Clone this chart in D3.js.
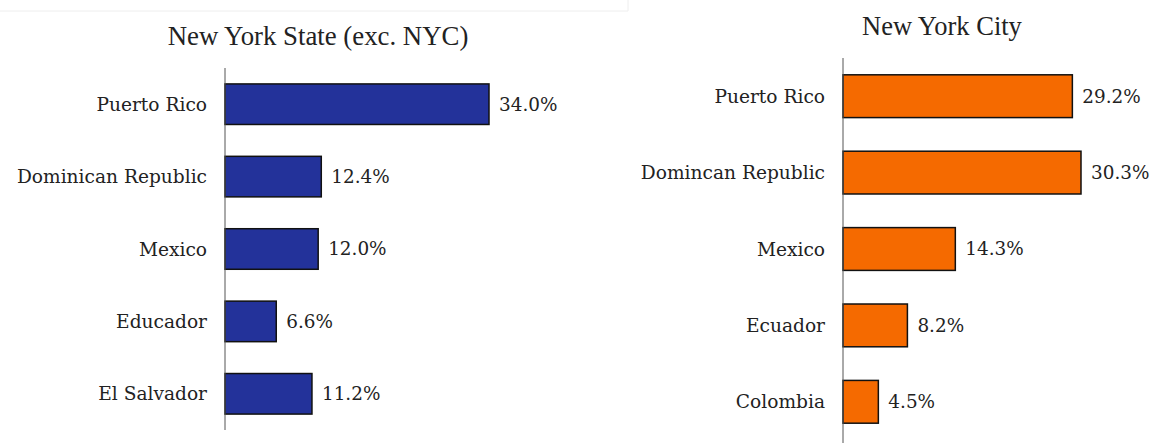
<!DOCTYPE html>
<html>
<head>
<meta charset="utf-8">
<script src="https://cdn.jsdelivr.net/npm/d3@7"></script>
<style>
  body { margin: 0; background: #fff; }
  svg { display: block; }
</style>
</head>
<body>
<div id="chart"></div>
<script>
// data
const stateCountries = ['Puerto Rico', 'Dominican Republic', 'Mexico', 'Educador', 'El Salvador']
const stateValues = [34.0, 12.4, 12.0, 6.6, 11.2]

const cityCountries = ['Puerto Rico', 'Domincan Republic', 'Mexico', 'Ecuador', 'Colombia']
const cityValues = [29.2, 30.3, 14.3, 8.2, 4.5]

const width = 1152
const height = 443
const labelFont = "'DejaVu Serif', Georgia, serif"
const titleFont = "'Liberation Serif', Georgia, serif"

const svg = d3.select('#chart')
  .append('svg')
  .attr('width', width)
  .attr('height', height)

// faint frame edge from the screenshot
svg.append('path')
  .attr('d', 'M0,11H628V0')
  .attr('fill', 'none')
  .attr('stroke', '#eee')
  .attr('stroke-width', 1)

function panel(opts) {
  const g = svg.append('g')

  const y = d3.scaleBand()
    .domain(opts.countries)
    .range([opts.top, opts.bottom])
    .paddingInner(0.44)
    .paddingOuter(0.22)

  const x = d3.scaleLinear()
    .domain([0, opts.refValue])
    .range([opts.x0, opts.x1])

  const rows = opts.countries.map((c, i) => ({ country: c, value: opts.values[i] }))

  g.selectAll('rect')
    .data(rows)
    .enter()
    .append('rect')
    .attr('x', x(0))
    .attr('y', d => y(d.country))
    .attr('width', d => x(d.value) - x(0))
    .attr('height', y.bandwidth())
    .attr('fill', opts.color)
    .attr('stroke', '#111')
    .attr('stroke-width', 1.5)

  // axis line
  g.append('line')
    .attr('x1', x(0)).attr('x2', x(0))
    .attr('y1', opts.top).attr('y2', opts.axisEnd)
    .attr('stroke', '#555')
    .attr('stroke-width', 1)

  g.selectAll('text.cat')
    .data(rows)
    .enter()
    .append('text')
    .attr('class', 'cat')
    .attr('x', x(0) - 18)
    .attr('y', d => y(d.country) + y.bandwidth() / 2)
    .attr('dy', '0.35em')
    .attr('text-anchor', 'end')
    .attr('font-family', labelFont)
    .attr('font-size', 18.6)
    .attr('fill', '#222')
    .text(d => d.country)

  g.selectAll('text.val')
    .data(rows)
    .enter()
    .append('text')
    .attr('class', 'val')
    .attr('x', d => x(d.value) + 10)
    .attr('y', d => y(d.country) + y.bandwidth() / 2)
    .attr('dy', '0.35em')
    .attr('font-family', labelFont)
    .attr('font-size', 18.4)
    .attr('fill', '#222')
    .text(d => d.value.toFixed(1) + '%')

  g.append('text')
    .attr('x', opts.titleX)
    .attr('y', opts.titleY)
    .attr('text-anchor', 'middle')
    .attr('font-family', titleFont)
    .attr('font-size', opts.titleSize)
    .attr('fill', '#222')
    .text(opts.title)
}

panel({
  title: 'New York State (exc. NYC)',
  titleX: 318, titleY: 45, titleSize: 26.8,
  countries: stateCountries, values: stateValues,
  refValue: 34.0, x0: 225, x1: 489,
  top: 68, bottom: 430, axisEnd: 430,
  color: '#23329a'
})

panel({
  title: 'New York City',
  titleX: 942, titleY: 35, titleSize: 26.5,
  countries: cityCountries, values: cityValues,
  refValue: 30.3, x0: 843, x1: 1081,
  top: 58, bottom: 440, axisEnd: 443,
  color: '#f56a00'
})
</script>
</body>
</html>
